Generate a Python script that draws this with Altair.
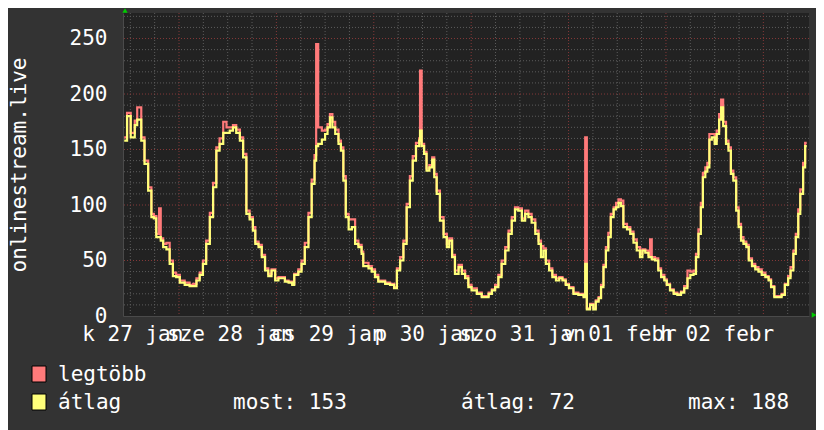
import altair as alt
import pandas as pd

# hours since the left edge of the plot (27 jan ~10:10)
HOURS = [
    0.3, 1.0, 1.9, 2.9, 3.5, 4.5, 5.3, 6.2, 7.0, 7.6,
    8.2, 8.9, 9.3, 9.9, 10.7, 11.5, 12.3, 13.1, 14.0, 15.2,
    16.4, 17.3, 18.1, 18.9, 19.7, 20.5, 21.4, 22.2, 23.0, 23.8,
    24.7, 25.5, 26.3, 27.1, 27.9, 28.8, 29.6, 30.4, 31.2, 32.0,
    32.6, 33.4, 34.2, 35.0, 35.8, 36.6, 37.5, 38.3, 39.1, 39.9,
    40.8, 41.7, 42.2, 43.2, 44.0, 44.8, 45.7, 46.5, 47.2, 47.6,
    48.1, 49.0, 49.8, 50.4, 51.0, 51.6, 52.3, 53.1, 53.7, 54.3,
    54.9, 55.6, 56.4, 57.2, 58.0, 58.8, 59.2, 60.5, 61.3, 62.1,
    62.9, 64.6, 65.8, 66.8, 67.5, 68.3, 69.1, 69.9, 70.7, 71.4,
    72.2, 73.0, 73.2, 73.6, 74.2, 74.8, 75.5, 76.2, 76.7, 77.3,
    78.1, 79.0, 79.8, 80.4, 81.1, 81.8, 82.7, 83.5, 84.3, 85.1,
    85.9, 87.2, 88.4, 89.2, 90.1, 90.9, 91.7, 92.5, 93.3, 94.2,
    95.0, 95.8, 96.6, 97.4, 98.3, 99.1, 99.9, 100.7, 101.6, 102.4,
    103.0, 103.6, 104.2, 105.0, 105.8, 106.7, 107.5, 108.3, 109.1, 109.9,
    111.0, 112.2, 113.5, 113.9, 114.3, 115.1, 115.9, 116.5, 117.2, 117.8,
    118.4, 119.0, 119.6, 120.2, 120.9, 121.5, 122.1, 122.7, 123.3, 124.2,
    125.0, 125.8, 126.6, 127.4, 128.0, 128.7, 129.5, 129.9, 130.3, 131.1,
    131.9, 132.6, 133.4, 134.0, 134.8, 135.7, 136.6, 137.5, 138.3, 139.1,
    139.8, 140.6, 141.2, 141.8, 142.4, 142.9, 143.5, 144.0, 144.5, 145.1,
    145.8, 146.3, 146.9, 147.4, 147.9, 148.6, 149.2, 149.8, 150.4, 151.1,
    151.7, 152.3, 152.9, 153.6, 154.2, 155.0, 155.8, 156.6, 157.4, 158.3,
    159.1, 159.7, 160.5, 161.5, 162.3, 163.1, 163.9, 164.5, 165.2, 165.8,
    166.4, 166.9, 167.6, 168.1, 168.5,
]

ATLAG = [
    158, 180, 161, 172, 177, 158, 137, 113, 89, 88,
    71, 71, 68, 62, 60, 47, 36, 35, 30, 28,
    27, 27, 32, 37, 47, 65, 89, 116, 149, 155,
    165, 165, 167, 170, 165, 158, 143, 92, 87, 77,
    65, 62, 53, 41, 36, 41, 32, 34, 34, 31,
    30, 28, 37, 40, 47, 62, 89, 119, 140, 153,
    155, 159, 164, 170, 179, 170, 164, 155, 149, 122,
    89, 78, 80, 65, 62, 56, 45, 43, 40, 35,
    31, 29, 28, 25, 41, 50, 65, 98, 122, 140,
    153, 158, 167, 153, 146, 131, 134, 141, 125, 110,
    86, 71, 62, 68, 53, 38, 44, 38, 34, 26,
    23, 20, 17, 17, 20, 23, 26, 35, 47, 59,
    74, 86, 96, 95, 86, 92, 89, 84, 74, 65,
    53, 59, 47, 41, 35, 32, 34, 32, 28, 25,
    20, 19, 17, 47, 6, 10, 6, 13, 16, 26,
    44, 59, 71, 89, 96, 98, 102, 99, 80, 78,
    74, 66, 59, 53, 59, 57, 53, 53, 51, 50,
    41, 35, 32, 28, 23, 20, 19, 21, 25, 34,
    37, 38, 53, 74, 98, 125, 130, 134, 159, 161,
    155, 164, 177, 188, 171, 155, 149, 128, 122, 95,
    80, 68, 65, 62, 50, 45, 42, 40, 37, 35,
    32, 26, 17, 17, 19, 28, 34, 41, 56, 71,
    92, 110, 134, 153, 153,
]

LEGTOBB = [
    161, 183, 165, 176, 188, 161, 140, 116, 92, 90,
    74, 97, 70, 65, 66, 50, 39, 37, 32, 30,
    28, 29, 34, 39, 50, 68, 93, 120, 152, 160,
    175, 170, 170, 172, 168, 161, 146, 95, 89, 80,
    67, 64, 55, 43, 38, 42, 34, 35, 35, 32,
    31, 29, 38, 42, 50, 66, 93, 123, 145, 245,
    170, 167, 168, 173, 182, 175, 168, 158, 152, 126,
    92, 87, 87, 68, 64, 58, 48, 45, 42, 37,
    32, 30, 29, 26, 43, 53, 68, 101, 126, 144,
    156, 160, 221, 155, 148, 133, 136, 143, 128, 113,
    89, 74, 65, 70, 55, 41, 46, 41, 36, 28,
    25, 21, 18, 18, 21, 24, 28, 37, 50, 62,
    77, 89, 98, 97, 88, 95, 92, 87, 77, 68,
    63, 61, 50, 43, 37, 34, 35, 33, 29, 26,
    21, 20, 18, 161, 7, 11, 7, 14, 17, 28,
    46, 62, 75, 92, 98, 102, 105, 104, 83, 80,
    76, 69, 62, 56, 60, 59, 55, 69, 53, 52,
    43, 37, 33, 29, 24, 21, 20, 22, 27, 41,
    40, 41, 56, 78, 102, 129, 134, 138, 164, 164,
    158, 167, 182, 195, 175, 158, 152, 131, 125, 98,
    83, 71, 67, 64, 52, 47, 44, 42, 39, 36,
    33, 27, 18, 18, 20, 29, 36, 44, 59, 74,
    96, 114, 138, 156, 156,
]

DAY_LABELS = ["k 27 jan", "sze 28 jan", "cs 29 jan", "p 30 jan",
              "szo 31 jan", "v 01 febr", "h 02 febr"]
Y_TICKS = [0, 50, 100, 150, 200, 250]
SERIES = ["legtöbb", "átlag"]
STATS = ["most: 153", "átlag: 72", "max: 188"]
Y_TITLE = "onlinestream.live"

# ---- styling / layout ----
FONT = "DejaVu Sans Mono"
FS = 21
RED = "#FF7A7A"
YELLOW = "#FFFF7A"
BACK = "#333333"
CANVAS = "#222222"
MINOR = "#5c5c5c"
MAJOR = "#843838"
AXIS_COL = "#4a4a4a"
GREEN = "#00cc00"

W, H = 686, 303
X_MAX = 169.05
Y_MAX = 273
FIRST_MIDNIGHT = 13.8
LABEL_CENTER0 = 2.3

xs = alt.Scale(domain=[0, X_MAX], nice=False, zero=False)
ys = alt.Scale(domain=[0, Y_MAX], nice=False, zero=True)

df = pd.DataFrame({"h": HOURS, "atlag": ATLAG, "legtobb": LEGTOBB})

h_minor = pd.DataFrame({"v": [v for v in range(10, Y_MAX, 10) if v % 50]})
h_major = pd.DataFrame({"v": [v for v in range(50, Y_MAX, 50)]})
v_all = [FIRST_MIDNIGHT - 12 + 6 * k for k in range(0, 30)]
v_all = [v for v in v_all if 0 < v < X_MAX]
v_major = [v for v in v_all if abs(((v - FIRST_MIDNIGHT) / 24) - round((v - FIRST_MIDNIGHT) / 24)) < 1e-6]
v_minor = [v for v in v_all if v not in v_major]

label_js = "[" + ",".join("'" + s + "'" for s in DAY_LABELS) + "]"
xaxis = alt.Axis(
    values=[LABEL_CENTER0 + 24 * i for i in range(len(DAY_LABELS))],
    labelExpr=f"{label_js}[round((datum.value - {LABEL_CENTER0}) / 24)]",
    ticks=False, grid=False, domain=True, domainColor=AXIS_COL, domainWidth=1,
    labelFont=FONT, labelFontSize=FS, labelColor="#ffffff", labelPadding=24,
    labelBaseline="alphabetic", labelFlush=False, labelOverlap=False, labelBound=False,
    title=None,
)
yaxis = alt.Axis(
    values=Y_TICKS, ticks=False, grid=False, domain=True, domainColor=AXIS_COL, domainWidth=1,
    labelFont=FONT, labelFontSize=FS, labelColor="#ffffff", labelPadding=16,
    labelFlush=False, labelOverlap=False,
    title=Y_TITLE, titleFont=FONT, titleFontSize=FS, titleFontWeight="normal",
    titleColor="#ffffff", titleAngle=270, titleX=-98, titleY=H / 2,
    titleAlign="center", titleBaseline="alphabetic",
)

dash = [1, 2]
g1 = alt.Chart(h_minor).mark_rule(color=MINOR, strokeDash=dash, strokeWidth=1).encode(
    y=alt.Y("v:Q", scale=ys, axis=yaxis))
g2 = alt.Chart(pd.DataFrame({"v": v_minor})).mark_rule(color=MINOR, strokeDash=dash, strokeWidth=1).encode(
    x=alt.X("v:Q", scale=xs, axis=xaxis))
g3 = alt.Chart(h_major).mark_rule(color=MAJOR, strokeDash=dash, strokeWidth=1).encode(
    y=alt.Y("v:Q", scale=ys, axis=yaxis))
g4 = alt.Chart(pd.DataFrame({"v": v_major})).mark_rule(color=MAJOR, strokeDash=dash, strokeWidth=1).encode(
    x=alt.X("v:Q", scale=xs, axis=xaxis))

red = alt.Chart(df).mark_line(color=RED, strokeWidth=2.2, interpolate="step-after").encode(
    x=alt.X("h:Q", scale=xs, axis=xaxis),
    y=alt.Y("legtobb:Q", scale=ys, axis=yaxis),
)
yel = alt.Chart(df).mark_line(color=YELLOW, strokeWidth=2.2, interpolate="step-after").encode(
    x=alt.X("h:Q", scale=xs, axis=xaxis),
    y=alt.Y("atlag:Q", scale=ys, axis=yaxis),
)

one = pd.DataFrame({"a": [0]})

# arrows at the axis ends
arrow_up = alt.Chart(one).mark_point(shape="triangle-up", filled=True, color=GREEN, size=28, opacity=1).encode(
    x=alt.value(2), y=alt.value(-2.5))
arrow_right = alt.Chart(one).mark_point(shape="triangle-right", filled=True, color=GREEN, size=28, opacity=1).encode(
    x=alt.value(W + 5), y=alt.value(H - 1))

# legend (pixel offsets relative to plot origin)
PX0, PY0 = 123, 13
legend_layers = []
for i, (name, col) in enumerate(zip(SERIES, [RED, YELLOW])):
    top = 366 + 28 * i
    legend_layers.append(
        alt.Chart(one).mark_rect(color=col, stroke="#000000", strokeWidth=1).encode(
            x=alt.value(32 - PX0), x2=alt.value(46 - PX0),
            y=alt.value(top - PY0), y2=alt.value(top + 16 - PY0)))
    legend_layers.append(
        alt.Chart(pd.DataFrame({"t": [name]})).mark_text(
            font=FONT, fontSize=FS, color="#ffffff", align="left", baseline="alphabetic").encode(
            text="t:N", x=alt.value(58 - PX0), y=alt.value(381 + 28 * i - PY0)))
for s, sx in zip(STATS, [233, 461, 688]):
    legend_layers.append(
        alt.Chart(pd.DataFrame({"t": [s]})).mark_text(
            font=FONT, fontSize=FS, color="#ffffff", align="left", baseline="alphabetic").encode(
            text="t:N", x=alt.value(sx - PX0), y=alt.value(409 - PY0)))

chart = alt.layer(g1, g2, g3, g4, red, yel, arrow_up, arrow_right, *legend_layers).properties(
    width=W, height=H,
    padding={"left": 115, "top": 5, "right": 7, "bottom": 114},
    autosize=alt.AutoSizeParams(type="none"),
    background=BACK,
).configure_view(fill=CANVAS, strokeWidth=0)

chart.save("out.html", embed_options={"renderer": "svg", "actions": False})
